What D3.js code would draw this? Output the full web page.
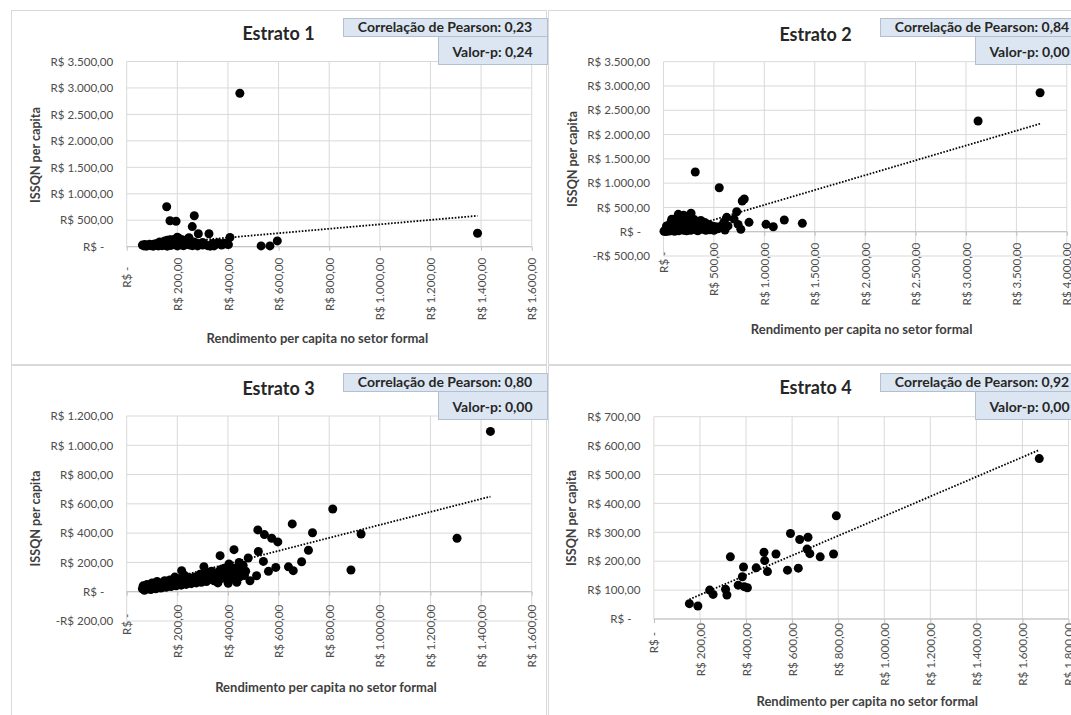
<!DOCTYPE html>
<html><head><meta charset="utf-8">
<script src="https://cdn.jsdelivr.net/npm/d3@7"></script>
<style>
html,body{margin:0;padding:0;background:#fff;}
svg{display:block;font-family:Lato,"Open Sans",sans-serif;}
</style></head>
<body><svg id="c" width="1071" height="715"></svg>
<script>
// ---------- DATA ----------
const titles = ["Estrato 1","Estrato 2","Estrato 3","Estrato 4"];
const pearson = ["0,23","0,84","0,80","0,92"];
const pValues = ["0,24","0,00","0,00","0,00"];
const xTitle = "Rendimento per capita no setor formal";
const yTitle = "ISSQN per capita";

const e1XTicks = [0,200,400,600,800,1000,1200,1400,1600];
const e1YTicks = [0,500,1000,1500,2000,2500,3000,3500];
const e2XTicks = [0,500,1000,1500,2000,2500,3000,3500,4000];
const e2YTicks = [-500,0,500,1000,1500,2000,2500,3000,3500];
const e3XTicks = [0,200,400,600,800,1000,1200,1400,1600];
const e3YTicks = [-200,0,200,400,600,800,1000,1200];
const e4XTicks = [0,200,400,600,800,1000,1200,1400,1600,1800];
const e4YTicks = [0,100,200,300,400,500,600,700];

const e1Points = [
 [447,2900],[1386,255],[158,756],[171,491],[195,480],[267,585],[259,380],[283,245],[325,245],
 [408,175],[402,40],[531,15],[566,15],[595,110],[200,178],[246,170],[168,127],[206,160],[175,130],
 [62,30],[68,15],[72,40],[78,10],[85,25],[90,45],[95,20],[100,35],[105,10],[110,50],[115,25],
 [120,60],[125,15],[130,40],[135,70],[140,20],[145,55],[150,30],[155,80],[160,10],[165,45],
 [170,100],[175,25],[180,60],[185,120],[190,35],[195,75],[200,15],[205,50],[210,90],[215,30],
 [220,60],[225,20],[230,110],[235,45],[240,75],[245,150],[250,30],[255,60],[260,20],[265,90],
 [270,40],[275,70],[280,15],[290,50],[300,30],[310,45],[320,20],[330,10],[340,60],[350,40],
 [360,75],[370,55],[385,65],[395,50],[130,90],[150,110],[160,120],[190,140],[220,130],[240,100],
 [210,50],[300,80],[345,15],[375,30]
];
const e1Trend = [[62,30],[1386,584]];

const e2Points = [
 [3735,2860],[3120,2280],[315,1230],[553,905],[781,632],[801,673],[81,255],[147,358],[273,379],
 [726,412],[627,296],[848,193],[1017,152],[1089,103],[1198,241],[1377,173],[767,49],[610,35],
 [5,10],[15,30],[25,5],[35,50],[45,20],[55,80],[60,15],[70,40],[80,100],[90,25],[100,60],
 [105,150],[110,10],[120,80],[130,200],[135,40],[140,120],[150,20],[160,250],[165,90],[170,160],
 [180,50],[185,300],[190,130],[200,30],[205,180],[210,70],[220,220],[225,110],[230,20],[240,160],
 [245,280],[250,60],[260,200],[265,130],[270,30],[280,100],[285,180],[290,60],[300,140],[305,250],
 [310,90],[320,40],[330,200],[335,120],[340,20],[350,160],[360,80],[370,230],[380,50],[390,140],
 [400,100],[410,190],[420,30],[430,120],[440,70],[450,150],[460,40],[470,100],[480,60],[490,110],
 [500,30],[510,80],[520,100],[540,60],[560,90],[580,130],[600,200],[640,120],[700,260],[740,150],
 [30,120],[70,180],[120,260],[200,340],[250,320]
];
const e2Trend = [[5,-56],[3735,2223]];

const e3Points = [
 [1437,1095],[1305,365],[814,565],[926,394],[886,148],[654,463],[734,403],[718,283],[691,205],
 [639,170],[658,144],[518,422],[544,390],[573,365],[597,340],[520,275],[540,207],[589,166],
 [560,139],[513,109],[480,230],[444,200],[404,189],[369,246],[424,287],[305,171],[217,144],
 [487,75],[435,64],[401,57],
 [62,20],[65,40],[70,10],[75,30],[80,50],[85,20],[90,35],[95,15],[100,60],[105,30],[110,45],
 [115,20],[120,70],[125,35],[130,50],[135,25],[140,60],[145,40],[150,75],[155,30],[160,55],
 [165,45],[170,80],[175,35],[180,65],[185,50],[190,100],[195,40],[200,70],[205,55],[210,90],
 [215,45],[220,75],[225,60],[230,110],[235,50],[240,80],[245,65],[250,95],[255,55],[260,85],
 [265,70],[270,100],[275,60],[280,90],[285,75],[290,120],[295,65],[300,95],[305,80],[310,130],
 [315,70],[320,100],[330,85],[335,140],[340,110],[345,75],[350,95],[355,130],[360,60],[365,105],
 [370,150],[375,90],[380,120],[385,160],[390,100],[395,130],[400,80],[405,175],[410,110],
 [415,140],[420,90],[425,160],[430,120],[440,150],[445,100],[450,130],[460,180],[465,110],[470,140]
];
const e3Trend = [[62,41],[1437,650]];

const e4Points = [
 [154,53],[191,45],[242,100],[257,85],[311,103],[317,83],[332,215],[366,117],[384,146],[389,180],
 [392,112],[406,108],[444,177],[478,231],[481,202],[493,164],[530,225],[580,169],[593,296],
 [627,176],[633,275],[669,283],[665,242],[677,226],[722,215],[780,225],[792,357],[1673,555]
];
const e4Trend = [[154,68],[1673,585]];

// ---------- LAYOUT ----------
const panels = [
 {pts:e1Points, trend:e1Trend, xt:e1XTicks, yt:e1YTicks, ox:11, oy:10,
  l:126.7, r:531.7, t:61.5, b:246.7, tx:278.5, ty:40, axx:317.4, axy:342.5, ayx:40, ayy:155, xo:11},
 {pts:e2Points, trend:e2Trend, xt:e2XTicks, yt:e2YTicks, ox:548, oy:10,
  l:663.5, r:1066.8, t:61.7, b:256, tx:815.5, ty:40.5, axx:861.6, axy:334.3, ayx:577, ayy:159, xo:11},
 {pts:e3Points, trend:e3Trend, xt:e3XTicks, yt:e3YTicks, ox:11, oy:365,
  l:126.7, r:531.7, t:416, b:621, tx:278.5, ty:394.5, axx:326, axy:691.7, ayx:40, ayy:518.5, xo:13},
 {pts:e4Points, trend:e4Trend, xt:e4XTicks, yt:e4YTicks, ox:548, oy:365,
  l:653.9, r:1068.5, t:416.7, b:619, tx:815.5, ty:394, axx:867.3, axy:706, ayx:576, ayy:518, xo:4}
];

const loc = d3.formatLocale({decimal:",", thousands:".", grouping:[3], currency:["R$ ",""]});
const f2 = loc.format(",.2f");
function brl(v){
  if (v === 0) return "R$ -\u00a0\u00a0\u00a0";
  if (v < 0) return "-R$ " + f2(-v);
  return "R$ " + f2(v);
}

const svg = d3.select("#c");
svg.append("rect").attr("width",1071).attr("height",715).attr("fill","#fff");

panels.forEach((p,i)=>{
  const g = svg.append("g");
  g.append("rect").attr("x",p.ox+0.5).attr("y",p.oy+0.5).attr("width",535).attr("height",354)
    .attr("fill","#fff").attr("stroke","#d9d9d9").attr("stroke-width",1);

  const x = d3.scaleLinear().domain([p.xt[0], p.xt[p.xt.length-1]]).range([p.l,p.r]);
  const y = d3.scaleLinear().domain([p.yt[0], p.yt[p.yt.length-1]]).range([p.b,p.t]);

  g.append("g").selectAll("line").data(p.yt).join("line")
    .attr("x1",p.l).attr("x2",p.r).attr("y1",d=>y(d)).attr("y2",d=>y(d))
    .attr("stroke","#d9d9d9").attr("stroke-width",1);
  g.append("g").selectAll("line").data(p.xt).join("line")
    .attr("x1",d=>x(d)).attr("x2",d=>x(d)).attr("y1",p.t).attr("y2",p.b)
    .attr("stroke","#d9d9d9").attr("stroke-width",1);

  const ya = g.append("g").attr("transform",`translate(${p.l},0)`)
    .call(d3.axisLeft(y).tickValues(p.yt).tickFormat(brl).tickSize(0).tickPadding(13.5));
  ya.select(".domain").remove();
  ya.selectAll("text").attr("fill","#4d4d4d").style("font-size","11.6px").style("font-family","Lato");

  const xa = g.append("g").attr("transform",`translate(0,${y(0)})`)
    .call(d3.axisBottom(x).tickValues(p.xt).tickFormat(brl).tickSize(4));
  xa.select(".domain").attr("stroke","#bfbfbf").attr("d",`M${p.l},0H${p.r}`);
  xa.selectAll(".tick line").attr("stroke","#bfbfbf");
  xa.selectAll("text").attr("fill","#4d4d4d").style("font-size","11.6px").style("font-family","Lato")
    .attr("transform","rotate(-90)").attr("text-anchor","end")
    .attr("x",-p.xo).attr("y",0).attr("dy","0.35em");

  g.append("path").datum(p.trend)
    .attr("d", d3.line().x(d=>x(d[0])).y(d=>y(d[1])))
    .attr("fill","none").attr("stroke","#000").attr("stroke-width",1.8)
    .attr("stroke-dasharray","1.6 1.6");

  g.append("g").selectAll("circle").data(p.pts).join("circle")
    .attr("cx",d=>x(d[0])).attr("cy",d=>y(d[1])).attr("r",4.5).attr("fill","#000");

  g.append("text").attr("x",p.tx).attr("y",p.ty).attr("text-anchor","middle")
    .style("font-size","18px").style("font-weight","bold").attr("fill","#262626").text(titles[i]);
  g.append("text").attr("x",p.axx).attr("y",p.axy).attr("text-anchor","middle")
    .style("font-size","13px").style("font-weight","bold").attr("fill","#404040").text(xTitle);
  g.append("text").attr("transform",`translate(${p.ayx},${p.ayy}) rotate(-90)`).attr("text-anchor","middle")
    .style("font-size","12.6px").style("font-weight","bold").attr("fill","#404040").text(yTitle);

  const cx = p.ox+332, vx = p.ox+427;
  g.append("rect").attr("x",cx+0.5).attr("y",p.oy+8.5).attr("width",204).attr("height",18)
    .attr("fill","#dce6f2").attr("stroke","#b4c0cf");
  g.append("text").attr("x",cx+102).attr("y",p.oy+22).attr("text-anchor","middle")
    .style("font-size","14px").style("font-weight","bold").attr("fill","#262626")
    .text("Correlação de Pearson: " + pearson[i]);
  g.append("rect").attr("x",vx+0.5).attr("y",p.oy+26.5).attr("width",109).attr("height",28)
    .attr("fill","#dce6f2").attr("stroke","#b4c0cf");
  g.append("text").attr("x",vx+54.5).attr("y",p.oy+46.5).attr("text-anchor","middle")
    .style("font-size","14px").style("font-weight","bold").attr("fill","#262626")
    .text("Valor-p: " + pValues[i]);
});
</script>
</body></html>
